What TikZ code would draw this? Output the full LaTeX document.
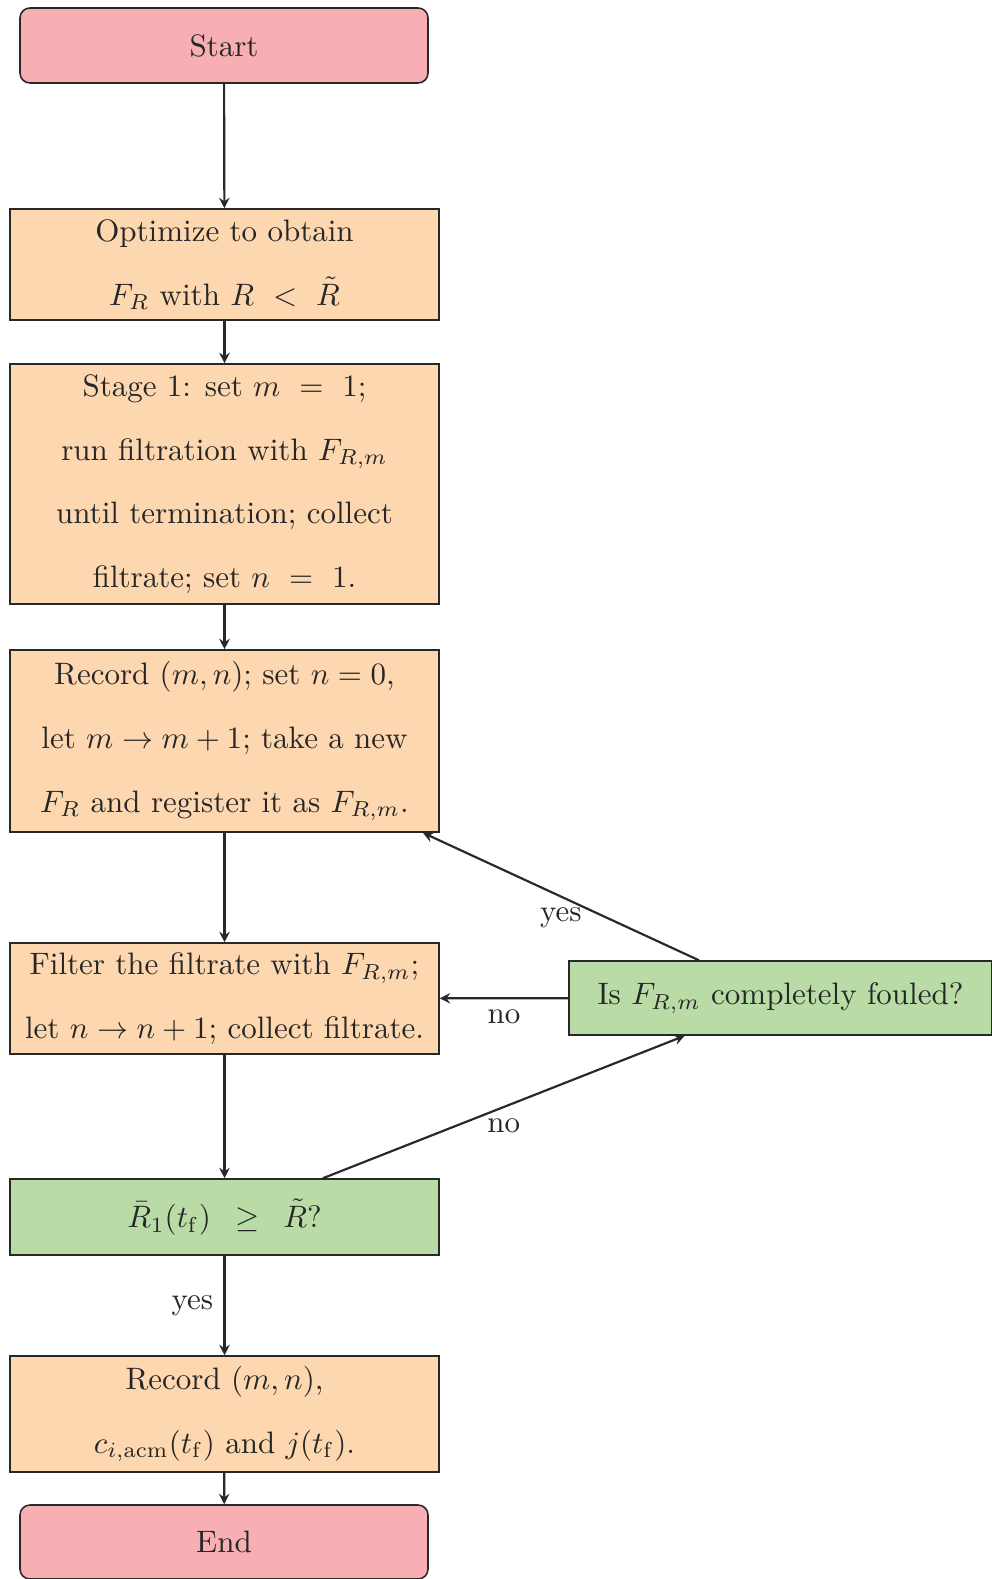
\documentclass[tikz,border=0pt]{standalone}
\usepackage{amsmath}
\usetikzlibrary{arrows.meta}
\definecolor{termfill}{RGB}{247,175,179}
\definecolor{procfill}{RGB}{253,215,176}
\definecolor{decfill}{RGB}{185,220,167}
\definecolor{edge}{RGB}{40,40,40}
\def\px{0.3226pt}
\tikzset{
  box/.style={draw=edge, line width=0.5pt, inner sep=0pt, align=center,
    text=black!85, font=\fontsize{10}{20.6}\selectfont},
  term/.style={box, fill=termfill, rounded corners=3.2pt},
  proc/.style={box, fill=procfill},
  dec/.style={box, fill=decfill},
  flow/.style={draw=edge, line width=0.7pt,
    -{Stealth[length=3.4pt, width=3.4pt, inset=1.2pt]}},
  lbl/.style={font=\fontsize{10}{12}\selectfont, text=black!85}
}
\begin{document}
\begin{tikzpicture}[x=\px, y=-\px]
\useasboundingbox (0,0) rectangle (992,1579);
\node[term, minimum width={408*\px}, minimum height={75*\px}] (start) at (224,45.5) {Start};
\node[proc, minimum width={429*\px}, minimum height={111*\px}] (opt) at (224.5,264.5)
  {Optimize to obtain\\ $F_R$ with $R\ <\ \tilde{R}$};
\node[proc, minimum width={429*\px}, minimum height={240*\px}] (stage) at (224.5,484)
  {Stage 1: set $m\ =\ 1$;\\ run filtration with $F_{R,m}$\\ until termination; collect\\ filtrate; set $n\ =\ 1$.};
\node[proc, minimum width={429*\px}, minimum height={182*\px}] (rec) at (224.5,741)
  {Record $(m,n)$; set $n=0$,\\ let $m\to m+1$; take a new\\ $F_R$ and register it as $F_{R,m}$.};
\node[proc, minimum width={429*\px}, minimum height={111*\px}] (filt) at (224.5,998.5)
  {Filter the filtrate with $F_{R,m}$;\\ let $n\to n+1$; collect filtrate.};
\node[dec, minimum width={423*\px}, minimum height={74*\px}] (foul) at (780.5,998)
  {Is $F_{R,m}$ completely fouled?};
\node[dec, minimum width={429*\px}, minimum height={76*\px}] (crit) at (224.5,1217)
  {$\bar{R}_1(t_\mathrm{f})\enspace\geq\enspace\tilde{R}$?};
\node[proc, minimum width={429*\px}, minimum height={116*\px}] (fin) at (224.5,1414)
  {Record $(m,n)$,\\ $c_{i,\mathrm{acm}}(t_\mathrm{f})$ and $j(t_\mathrm{f})$.};
\node[term, minimum width={408*\px}, minimum height={74*\px}] (end) at (224,1542) {End};

\draw[flow] (start) -- (opt);
\draw[flow] (opt) -- (stage);
\draw[flow] (stage) -- (rec);
\draw[flow] (rec) -- (filt);
\draw[flow] (filt) -- (crit);
\draw[flow] (crit) -- node[lbl, midway, left] {yes} (fin);
\draw[flow] (fin) -- (end);
\draw[flow] (crit) -- node[lbl, midway, below] {no} (foul);
\draw[flow] (foul) -- node[lbl, midway, below] {no} (filt);
\draw[flow] (foul) -- node[lbl, midway, below] {yes} (rec);
\end{tikzpicture}
\end{document}
